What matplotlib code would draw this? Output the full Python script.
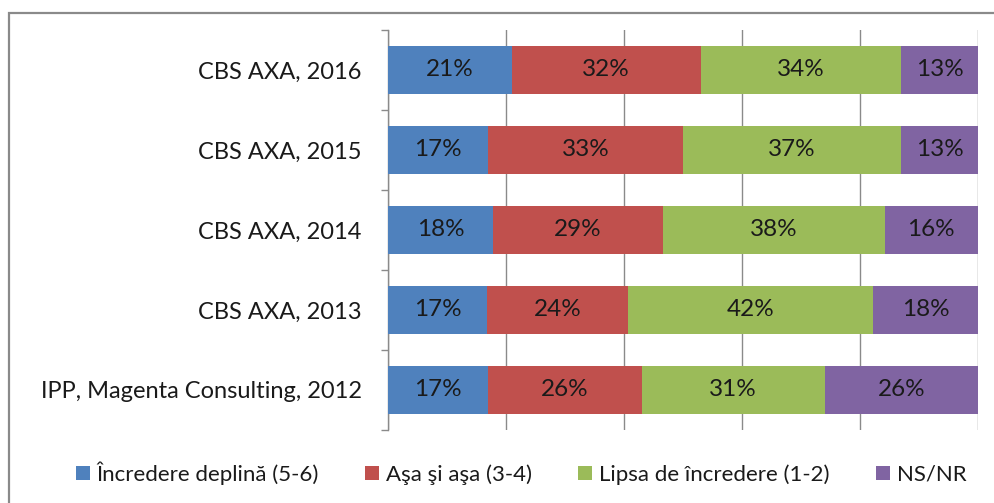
import matplotlib
matplotlib.use("Agg")
import matplotlib.pyplot as plt
from matplotlib.patches import Rectangle, Patch
import numpy as np

plt.rcParams['font.family'] = ['Lato', 'DejaVu Sans']

categories = ["CBS AXA, 2016", "CBS AXA, 2015", "CBS AXA, 2014",
              "CBS AXA, 2013", "IPP, Magenta Consulting, 2012"]
series_names = ["Încredere deplină (5-6)", "Aşa şi aşa (3-4)",
                "Lipsa de încredere (1-2)", "NS/NR"]
incredere = [21, 17, 18, 17, 17]
asa = [32, 33, 29, 24, 26]
lipsa = [34, 37, 38, 42, 31]
nsnr = [13, 13, 16, 18, 26]
colors = ["#4F81BD", "#C0504D", "#9BBB59", "#8064A2"]

W, H = 995, 503
fig = plt.figure(figsize=(W / 100, H / 100), dpi=100)

# chart-area border
fig.patches.append(Rectangle((9 / W, -0.1), 1.2, 1 - 13 / H + 0.1,
                             transform=fig.transFigure, fill=False,
                             edgecolor="#8a8a8a", linewidth=1.6))

ax = fig.add_axes([388 / W, 1 - 430 / H, (978 - 388) / W, 400 / H])

data = np.array([incredere, asa, lipsa, nsnr], dtype=float)
shares = data / data.sum(axis=0) * 100
y = np.arange(len(categories))
left = np.zeros(len(categories))
for vals, pct, name, col in zip(data, shares, series_names, colors):
    ax.barh(y, pct, left=left, height=0.6, color=col, zorder=3, label=name)
    for yi, l, w, v in zip(y, left, pct, vals):
        ax.text(l + w / 2, yi, f"{int(v)}%", ha="center", va="center",
                fontsize=17.5, color="#1a1a1a", zorder=4)
    left += pct

ax.set_xlim(0, 100)
ax.set_ylim(len(categories) - 0.5, -0.5)
ax.set_xticks(np.arange(0, 101, 20))
ax.xaxis.grid(True, color="#8a8a8a", linewidth=1, zorder=0)
ax.tick_params(axis="x", length=0, labelbottom=False)
ax.set_yticks(y)
ax.set_yticklabels(categories, fontsize=17, color="#1a1a1a")
ax.tick_params(axis="y", which="major", length=0, pad=19)
ax.set_yticks(np.arange(-0.5, len(categories)), minor=True)
ax.tick_params(axis="y", which="minor", length=5, width=1, color="#8a8a8a",
               direction="out")
for s in ("top", "right", "bottom"):
    ax.spines[s].set_visible(False)
ax.spines["left"].set_color("#8a8a8a")
ax.spines["left"].set_linewidth(1)

handles = [Patch(facecolor=c, edgecolor="none") for c in colors]
fig.legend(handles, series_names, loc="center", ncol=4,
           bbox_to_anchor=(521 / W, 1 - 473 / H), frameon=False,
           fontsize=16, handlelength=0.62, handleheight=0.62,
           handletextpad=0.3, columnspacing=2.1, labelcolor="#1a1a1a")

fig.savefig("out.png", dpi=100)
